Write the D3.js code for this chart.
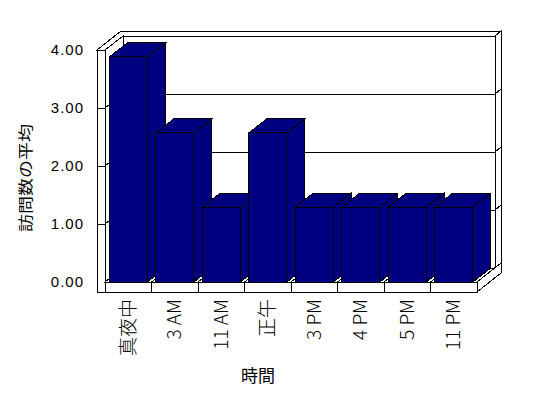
<!doctype html>
<html lang="ja">
<head>
<meta charset="utf-8">
<script src="https://d3js.org/d3.v7.min.js"></script>
<style>
  body { margin: 0; background: #fff; }
  text { font-family: "Liberation Sans", "Noto Sans CJK JP", sans-serif; fill: #000; }
  .cjk { font-family: "Noto Sans CJK JP", sans-serif; }
</style>
</head>
<body>
<div id="chart"></div>
<script>
// data
const categories = ["真夜中", "3 AM", "11 AM", "正午", "3 PM", "4 PM", "5 PM", "11 PM"];
const values = [3.88, 2.57, 1.29, 2.57, 1.29, 1.29, 1.29, 1.29];
const yTicks = [0, 1, 2, 3, 4];
const yTitle = "訪問数の平均";
const xTitle = "時間";

const width = 548, height = 398;
const svg = d3.select("#chart").append("svg")
  .attr("width", width).attr("height", height)
  .attr("shape-rendering", "crispEdges");

// front plane scales
const x = d3.scaleBand().domain(categories).range([105, 477])
  .paddingInner(0.18).paddingOuter(0.09);
const y = d3.scaleLinear().domain([0, 4]).range([282, 50]);

const dx = 18, dy = -14;   // depth of the plot box
const tx = 6, ty = -5;     // back wall thickness
const wallL = 97;          // outer edge of left wall
const floorB = 292;        // bottom of the floor slab
const x0 = x.range()[0], x1 = x.range()[1];
const y0 = y(0), y4 = y(4);

function poly(pts, fill) {
  svg.append("polygon")
    .attr("points", pts.map(p => p.join(",")).join(" "))
    .attr("fill", fill).attr("stroke", "#000").attr("stroke-width", 1);
}
function line(a, b) {
  svg.append("line")
    .attr("x1", a[0]).attr("y1", a[1]).attr("x2", b[0]).attr("y2", b[1])
    .attr("stroke", "#000").attr("stroke-width", 1);
}

// back wall, inner face + gridlines
poly([[x0 + dx, y4 + dy], [x1 + dx, y4 + dy], [x1 + dx, y0 + dy], [x0 + dx, y0 + dy]], "#fff");
// back wall right edge (thickness)
poly([[x1 + dx, y4 + dy], [x1 + dx + tx, y4 + dy + ty], [x1 + dx + tx, y0 + dy + ty], [x1 + dx, y0 + dy]], "#fff");
// top of both walls
poly([[wallL, y4], [x0, y4], [x0 + dx, y4 + dy], [x1 + dx, y4 + dy],
      [x1 + dx + tx, y4 + dy + ty], [wallL + dx + tx, y4 + dy + ty]], "#fff");
// left wall, inner face
poly([[x0, y4], [x0 + dx, y4 + dy], [x0 + dx, y0 + dy], [x0, y0]], "#fff");
// left wall, front face
poly([[wallL, y4], [x0, y4], [x0, floorB], [wallL, floorB]], "#fff");

yTicks.filter(v => v > 0 && v < 4).forEach(v => {
  line([x0 + dx, y(v) + dy], [x1 + dx, y(v) + dy]);
  line([x1 + dx, y(v) + dy], [x1 + dx + tx, y(v) + dy + ty]);
  line([x0, y(v)], [x0 + dx, y(v) + dy]);
  line([wallL, y(v)], [x0, y(v)]);
});

// floor slab
poly([[x0, y0], [x1, y0], [x1 + dx, y0 + dy], [x0 + dx, y0 + dy]], "#fff");
poly([[x1, y0], [x1 + dx + tx, y0 + dy + ty], [x1 + dx + tx, floorB + dy + ty], [x1, floorB]], "#fff");
poly([[x0, y0], [x1, y0], [x1, floorB], [x0, floorB]], "#fff");
const step = x.step();
d3.range(1, categories.length).forEach(i => {
  const b = x0 + i * step;
  line([b, y0], [b, floorB]);
  line([b, y0], [b + dx, y0 + dy]);
});

// bars
const navy = "#000080";
categories.forEach((c, i) => {
  const xl = x(c), xr = x(c) + x.bandwidth(), yt = y(values[i]);
  poly([[xr, yt], [xr + dx, yt + dy], [xr + dx, y0 + dy], [xr, y0]], navy);
  poly([[xl, yt], [xr, yt], [xr + dx, yt + dy], [xl + dx, yt + dy]], navy);
  poly([[xl, yt], [xr, yt], [xr, y0], [xl, y0]], navy);
});

// y tick labels
svg.append("g").selectAll("text").data(yTicks).join("text")
  .attr("x", 84).attr("y", d => y(d))
  .attr("dy", "0.36em")
  .attr("text-anchor", "end")
  .style("font-size", "15px")
  .style("letter-spacing", "1px")
  .text(d => d3.format(".2f")(d));

// category labels, rotated
svg.append("g").selectAll("text").data(categories).join("text")
  .attr("class", "cjk")
  .attr("transform", d => `translate(${x(d) + x.bandwidth() / 2},299) rotate(-90)`)
  .attr("dy", "0.35em")
  .attr("text-anchor", "end")
  .style("font-size", "19px")
  .style("font-weight", "300")
  .text(d => d);

// axis titles
svg.append("text").attr("class", "cjk")
  .attr("x", 258).attr("y", 382)
  .attr("text-anchor", "middle")
  .style("font-size", "17px")
  .text(xTitle);

svg.append("text").attr("class", "cjk")
  .attr("transform", "translate(26,178) rotate(-90) scale(1,0.8)")
  .attr("dy", "0.35em")
  .attr("text-anchor", "middle")
  .style("font-size", "18px")
  .text(yTitle);
</script>
</body>
</html>
